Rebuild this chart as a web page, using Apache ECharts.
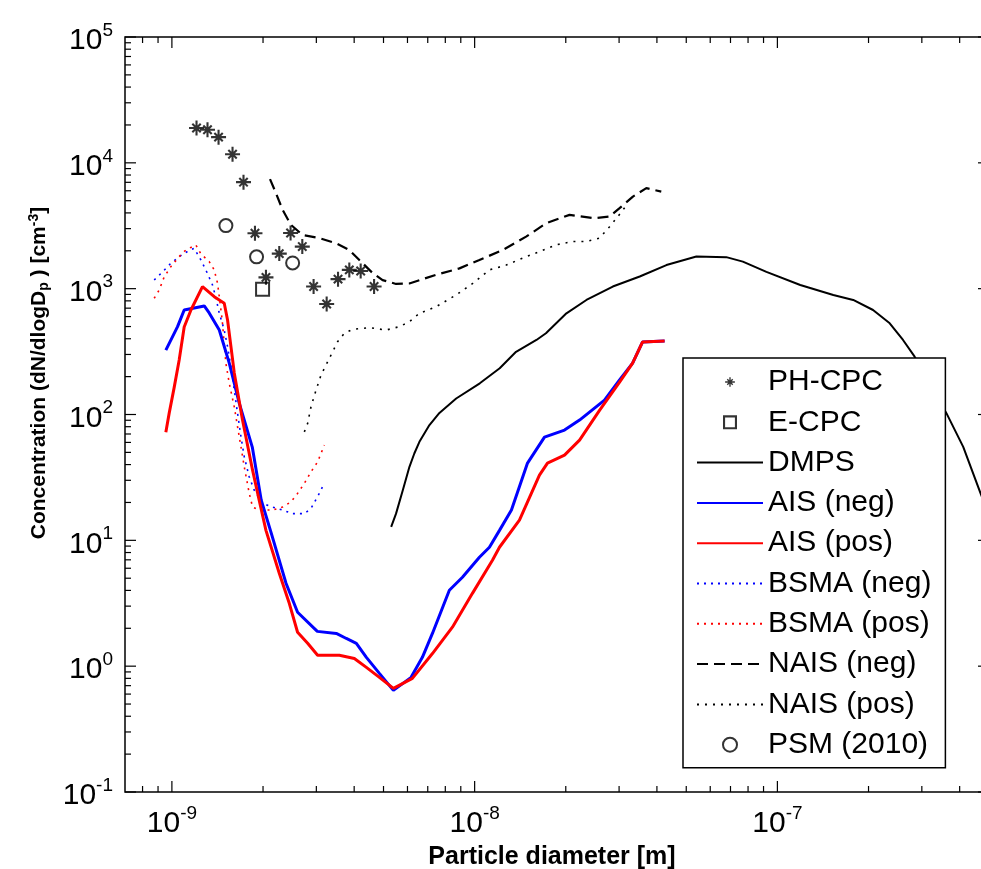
<!DOCTYPE html>
<html><head><meta charset="utf-8">
<script src="https://cdn.jsdelivr.net/npm/echarts@6/dist/echarts.min.js"></script>
<style>html,body{margin:0;padding:0;background:#fff;overflow:hidden}#c{width:990px;height:869px}</style>
</head><body><div id="c"></div>
<script>
// ---------------- data (diameter in m, concentration in cm^-3) ----------------
const phcpcD = [1.206e-9,1.311e-9,1.426e-9,1.586e-9,1.724e-9,1.881e-9,2.045e-9,2.263e-9,2.466e-9,2.696e-9,2.938e-9,3.245e-9,3.538e-9,3.855e-9,4.203e-9,4.654e-9];
const phcpcC = [18900,18300,16000,11700,7020,2760,1230,1900,2770,2160,1040,755,1190,1410,1380,1040];

const ecpcD = [1.993e-9];
const ecpcC = [989];

const psmD = [1.508e-9,1.904e-9,2.505e-9];
const psmC = [3170,1790,1600];

const dmpsD = [5.30e-9,5.50e-9,5.79e-9,6.09e-9,6.32e-9,6.57e-9,7.09e-9,7.65e-9,8.69e-9,1.04e-8,1.21e-8,1.37e-8,1.60e-8,1.72e-8,2.01e-8,2.34e-8,2.86e-8,3.51e-8,4.30e-8,5.40e-8,6.78e-8,7.69e-8,9.20e-8,1.19e-7,1.53e-7,1.78e-7,2.07e-7,2.35e-7,2.60e-7,2.84e-7,3.62e-7,4.11e-7,4.70e-7,5.00e-7];
const dmpsC = [12.8,16.3,25,38.4,49,60.7,82.4,103,134,177,233,315,391,442,637,813,1040,1250,1540,1800,1780,1640,1360,1070,891,813,677,531,391,288,102,55.3,23.3,16];

const aisNegD = [9.55e-10,1.044e-9,1.098e-9,1.279e-9,1.328e-9,1.434e-9,1.547e-9,1.669e-9,1.843e-9,1.973e-9,2.129e-9,2.382e-9,2.601e-9,3.022e-9,3.492e-9,3.769e-9,4.067e-9,4.389e-9,4.846e-9,5.391e-9,6.166e-9,6.72e-9,7.254e-9,8.25e-9,9.114e-9,1.037e-8,1.119e-8,1.208e-8,1.323e-8,1.495e-8,1.701e-8,1.981e-8,2.221e-8,2.685e-8,3.011e-8,3.325e-8,3.587e-8,4.241e-8];
const aisNegC = [325,499,677,729,641,469,256,123,55.1,20.8,11.4,4.56,2.68,1.89,1.82,1.66,1.52,1.175,0.877,0.642,0.815,1.175,1.82,4.01,5.09,7.34,8.81,12.0,17.4,41.1,66.1,75.2,90.3,130,188,256,377,384];

const aisPosD = [9.55e-10,9.80e-10,1.018e-9,1.057e-9,1.098e-9,1.156e-9,1.262e-9,1.380e-9,1.489e-9,1.527e-9,1.567e-9,1.607e-9,1.711e-9,1.847e-9,1.943e-9,2.045e-9,2.263e-9,2.442e-9,2.601e-9,2.808e-9,3.029e-9,3.573e-9,4.006e-9,4.389e-9,4.846e-9,5.391e-9,6.228e-9,7.254e-9,8.445e-9,9.833e-9,1.145e-8,1.208e-8,1.406e-8,1.637e-8,1.740e-8,1.981e-8,2.221e-8,2.585e-8,3.011e-8,3.325e-8,3.587e-8,4.241e-8];
const aisPosC = [72.4,103,165,271,496,677,1038,864,765,564,346,214,90.3,36.1,20.8,12.0,5.47,3.16,1.86,1.52,1.22,1.22,1.15,0.978,0.815,0.666,0.80,1.26,2.04,3.79,6.95,8.81,14.5,33.0,41.1,47.5,62.6,108,181,256,377,384];

const bsmaNegD = [8.74e-10,9.31e-10,9.92e-10,1.057e-9,1.141e-9,1.185e-9,1.247e-9,1.308e-9,1.362e-9,1.398e-9,1.434e-9,1.489e-9,1.527e-9,1.567e-9,1.607e-9,1.648e-9,1.691e-9,1.734e-9,1.801e-9,1.871e-9,1.993e-9,2.150e-9,2.321e-9,2.504e-9,2.738e-9,2.880e-9,3.069e-9,3.188e-9];
const bsmaNegC = [1172,1358,1592,1798,2014,2089,1690,1334,1070,843,637,469,346,240,156,102,66.5,46.1,31.9,25.0,19.6,18.4,17.4,16.3,16.3,17.9,23.6,28.5];

const bsmaPosD = [8.74e-10,9.08e-10,9.43e-10,9.92e-10,1.057e-9,1.112e-9,1.200e-9,1.247e-9,1.328e-9,1.380e-9,1.415e-9,1.434e-9,1.466e-9,1.508e-9,1.547e-9,1.607e-9,1.648e-9,1.691e-9,1.734e-9,1.801e-9,1.847e-9,1.943e-9,2.150e-9,2.321e-9,2.474e-9,2.601e-9,2.738e-9,2.880e-9,3.029e-9,3.188e-9];
const bsmaPosC = [839,977,1239,1496,1798,2032,2227,1888,1641,1409,1104,864,564,255,177,115,79.8,55.3,38.4,23.6,18.4,17.4,17.4,18.4,20.2,23.6,28.3,35.0,42.0,57.1];

const naisNegD = [2.109e-9,2.207e-9,2.321e-9,2.474e-9,2.702e-9,3.069e-9,3.484e-9,3.855e-9,4.16e-9,4.603e-9,4.966e-9,5.502e-9,6.087e-9,7.458e-9,8.91e-9,1.037e-8,1.239e-8,1.479e-8,1.723e-8,2.058e-8,2.489e-8,2.791e-8,3.011e-8,3.332e-8,3.69e-8,4.135e-8];
const naisNegC = [7420,5740,4230,3210,2670,2520,2300,2030,1690,1330,1170,1090,1100,1290,1450,1690,2030,2590,3310,3860,3630,3740,4360,5390,6290,5910];

const naisPosD = [2.738e-9,2.808e-9,2.88e-9,2.992e-9,3.109e-9,3.311e-9,3.527e-9,3.712e-9,3.954e-9,4.489e-9,5.099e-9,5.64e-9,6.087e-9,6.57e-9,7.458e-9,8.687e-9,9.856e-9,1.119e-8,1.271e-8,1.442e-8,1.637e-8,1.859e-8,2.11e-8,2.337e-8,2.585e-8,2.791e-8,2.972e-8,3.2e-8];
const naisPosC = [72.8,85,115,156,206,279,379,442,475,490,469,499,546,637,719,891,1100,1410,1540,1750,1970,2230,2370,2370,2520,3110,3740,4720];

// axis limits and tick values
const xMin = 7e-10, xMax = 5e-7, yMin = 0.1, yMax = 1e5;
const xMajorTicks = [1e-9, 1e-8, 1e-7];
const yMajorTicks = [1e-1, 1e0, 1e1, 1e2, 1e3, 1e4, 1e5];
const minorMultipliers = [2,3,4,5,6,7,8,9];

// ---------------- chart ----------------
const FONT = "'Liberation Sans', Arial, Helvetica, sans-serif";
const STAR_SHAPE = 'M43 0h14v100h-14z M0 43h100v14h-100z M17.05 26.95L26.95 17.05L82.95 73.05L73.05 82.95z M73.05 17.05L82.95 26.95L26.95 82.95L17.05 73.05z M38 38h24v24h-24z';
const STAR = 'path://' + STAR_SHAPE;
const STAR_LEGEND = 'path://' + STAR_SHAPE + ' M-22 -22 M122 122';
const SQUARE_HOLLOW = 'path://M0 0h100v100h-100z M15 15v70h70v-70z';

function pairs(xs, ys) { return xs.map((x, i) => [x, ys[i]]); }

function minorList(lo, hi) {
  const out = [];
  for (let n = -12; n <= 6; n++) {
    minorMultipliers.forEach(k => {
      const v = k * Math.pow(10, n);
      if (v > lo * 1.0001 && v < hi * 0.9999) out.push(v);
    });
  }
  return out;
}
const xMinorTicks = minorList(xMin, xMax);
const yMinorTicks = minorList(yMin, yMax);

function powLabel(v) {
  const e = Math.log10(v);
  const n = Math.round(e);
  if (Math.abs(e - n) > 1e-6) return '';
  return '{b|10}{s|' + n + '}';
}
const labelRich = {
  b: { fontSize: 30, fontFamily: FONT, color: '#000', lineHeight: 40 },
  s: { fontSize: 19, fontFamily: FONT, color: '#000', lineHeight: 14, verticalAlign: 'top' }
};

function lineSeries(name, xs, ys, color, width, type, z) {
  return {
    name, type: 'line', data: pairs(xs, ys), symbol: 'none', showSymbol: false,
    lineStyle: { color, width, type }, itemStyle: { color }, z: z || 2,
    animation: false, clip: true
  };
}
function lineLegend(name) { return { name, itemStyle: { opacity: 0 } }; }

const tickSeries = {
  type: 'custom', name: 'ticks', silent: true, clip: false, z: 20,
  data: [[xMin, yMin]],
  renderItem: function (params, api) {
    const ch = [];
    const p0 = api.coord([xMin, yMin]);
    const p1 = api.coord([xMax, yMax]);
    const left = p0[0], bot = p0[1], right = p1[0], top = p1[1];
    const st = { stroke: '#000', lineWidth: 1.2 };
    function seg(x1, y1, x2, y2) { ch.push({ type: 'line', shape: { x1, y1, x2, y2 }, style: st }); }
    xMajorTicks.concat(xMinorTicks).forEach((v, i) => {
      const L = i < xMajorTicks.length ? 11 : 6;
      const x = api.coord([v, yMin])[0];
      seg(x, bot, x, bot - L); seg(x, top, x, top + L);
    });
    yMajorTicks.concat(yMinorTicks).forEach((v, i) => {
      const L = i < yMajorTicks.length ? 11 : 6;
      const y = api.coord([xMin, v])[1];
      seg(left, y, left + L, y); seg(right, y, right - L, y);
    });
    return { type: 'group', children: ch };
  }
};

const chart = echarts.init(document.getElementById('c'), null, { renderer: 'canvas' });
chart.setOption({
  animation: false,
  backgroundColor: '#fff',
  grid: { left: 125, top: 37, right: 1, bottom: 77, show: true, borderColor: '#000', borderWidth: 1.5,
          backgroundColor: 'transparent', outerBoundsMode: 'none', containLabel: false },
  xAxis: {
    type: 'log', logBase: 10, min: xMin, max: xMax, splitNumber: 3,
    axisLine: { show: false }, axisTick: { show: false }, splitLine: { show: false },
    axisLabel: { formatter: powLabel, rich: labelRich, margin: 12, showMinLabel: true, showMaxLabel: true }
  },
  yAxis: {
    type: 'log', logBase: 10, min: yMin, max: yMax, splitNumber: 6,
    axisLine: { show: false }, axisTick: { show: false }, splitLine: { show: false },
    axisLabel: { formatter: powLabel, rich: labelRich, margin: 12, padding: [8, 0, 0, 0], showMinLabel: true, showMaxLabel: true }
  },
  legend: {
    orient: 'vertical', left: 683, top: 358,
    itemWidth: 66, itemHeight: 14, itemGap: 10.3,
    padding: [9, 14, 8, 13],
    backgroundColor: '#fff', borderColor: '#000', borderWidth: 1.5,
    textStyle: { fontSize: 30, fontFamily: FONT, color: '#000', lineHeight: 30 },
    selectedMode: false,
    data: [
      { name: 'PH-CPC', icon: STAR_LEGEND, itemStyle: { color: '#000', borderWidth: 0 } },
      { name: 'E-CPC', icon: SQUARE_HOLLOW, itemStyle: { color: '#000', borderWidth: 0 } },
      lineLegend('DMPS'), lineLegend('AIS (neg)'), lineLegend('AIS (pos)'),
      lineLegend('BSMA (neg)'), lineLegend('BSMA (pos)'), lineLegend('NAIS (neg)'), lineLegend('NAIS (pos)'),
      { name: 'PSM (2010)', icon: 'circle', itemStyle: { color: 'rgba(0,0,0,0)', borderColor: '#000', borderWidth: 2 } }
    ]
  },
  graphic: [
    {
      type: 'text', x: 552, y: 857, silent: true, z: 50,
      style: { text: 'Particle diameter [m]', font: 'bold 25px ' + FONT, fill: '#000',
               textAlign: 'center', textVerticalAlign: 'middle', align: 'center', verticalAlign: 'middle' }
    },
    {
      type: 'text', x: 39, y: 373, rotation: Math.PI / 2, silent: true, z: 50,
      style: {
        text: '{m|Concentration (dN/dlogD}{sub|p}{m| ) [cm}{sup|-3}{m|]}',
        fill: '#000', textAlign: 'center', textVerticalAlign: 'middle', align: 'center', verticalAlign: 'middle',
        rich: {
          m: { fontSize: 21, fontWeight: 'bold', fontFamily: FONT, fill: '#000', color: '#000', lineHeight: 24 },
          sub: { fontSize: 14, fontWeight: 'bold', fontFamily: FONT, fill: '#000', color: '#000', lineHeight: 6, verticalAlign: 'bottom' },
          sup: { fontSize: 14, fontWeight: 'bold', fontFamily: FONT, fill: '#000', color: '#000', lineHeight: 8, verticalAlign: 'top' }
        }
      }
    }
  ],
  series: [
    lineSeries('DMPS', dmpsD, dmpsC, '#000', 2, 'solid'),
    lineSeries('BSMA (neg)', bsmaNegD, bsmaNegC, '#0000ff', 1.6, [2, 5]),
    lineSeries('BSMA (pos)', bsmaPosD, bsmaPosC, '#ff0000', 1.6, [2, 5]),
    lineSeries('NAIS (neg)', naisNegD, naisNegC, '#000', 2.2, [11, 6]),
    lineSeries('NAIS (pos)', naisPosD, naisPosC, '#000', 1.6, [2, 6]),
    lineSeries('AIS (neg)', aisNegD, aisNegC, '#0000ff', 3, 'solid', 3),
    lineSeries('AIS (pos)', aisPosD, aisPosC, '#ff0000', 3, 'solid', 4),
    {
      name: 'PH-CPC', type: 'scatter', data: pairs(phcpcD, phcpcC), symbol: STAR, symbolSize: 15,
      itemStyle: { color: '#000' }, z: 5, animation: false
    },
    {
      name: 'E-CPC', type: 'scatter', data: pairs(ecpcD, ecpcC), symbol: 'rect', symbolSize: 13,
      itemStyle: { color: 'rgba(0,0,0,0)', borderColor: '#000', borderWidth: 2 }, z: 5, animation: false
    },
    {
      name: 'PSM (2010)', type: 'scatter', data: pairs(psmD, psmC), symbol: 'circle', symbolSize: 13,
      itemStyle: { color: 'rgba(0,0,0,0)', borderColor: '#000', borderWidth: 2 }, z: 5, animation: false
    },
    tickSeries
  ]
});
</script>
</body></html>
